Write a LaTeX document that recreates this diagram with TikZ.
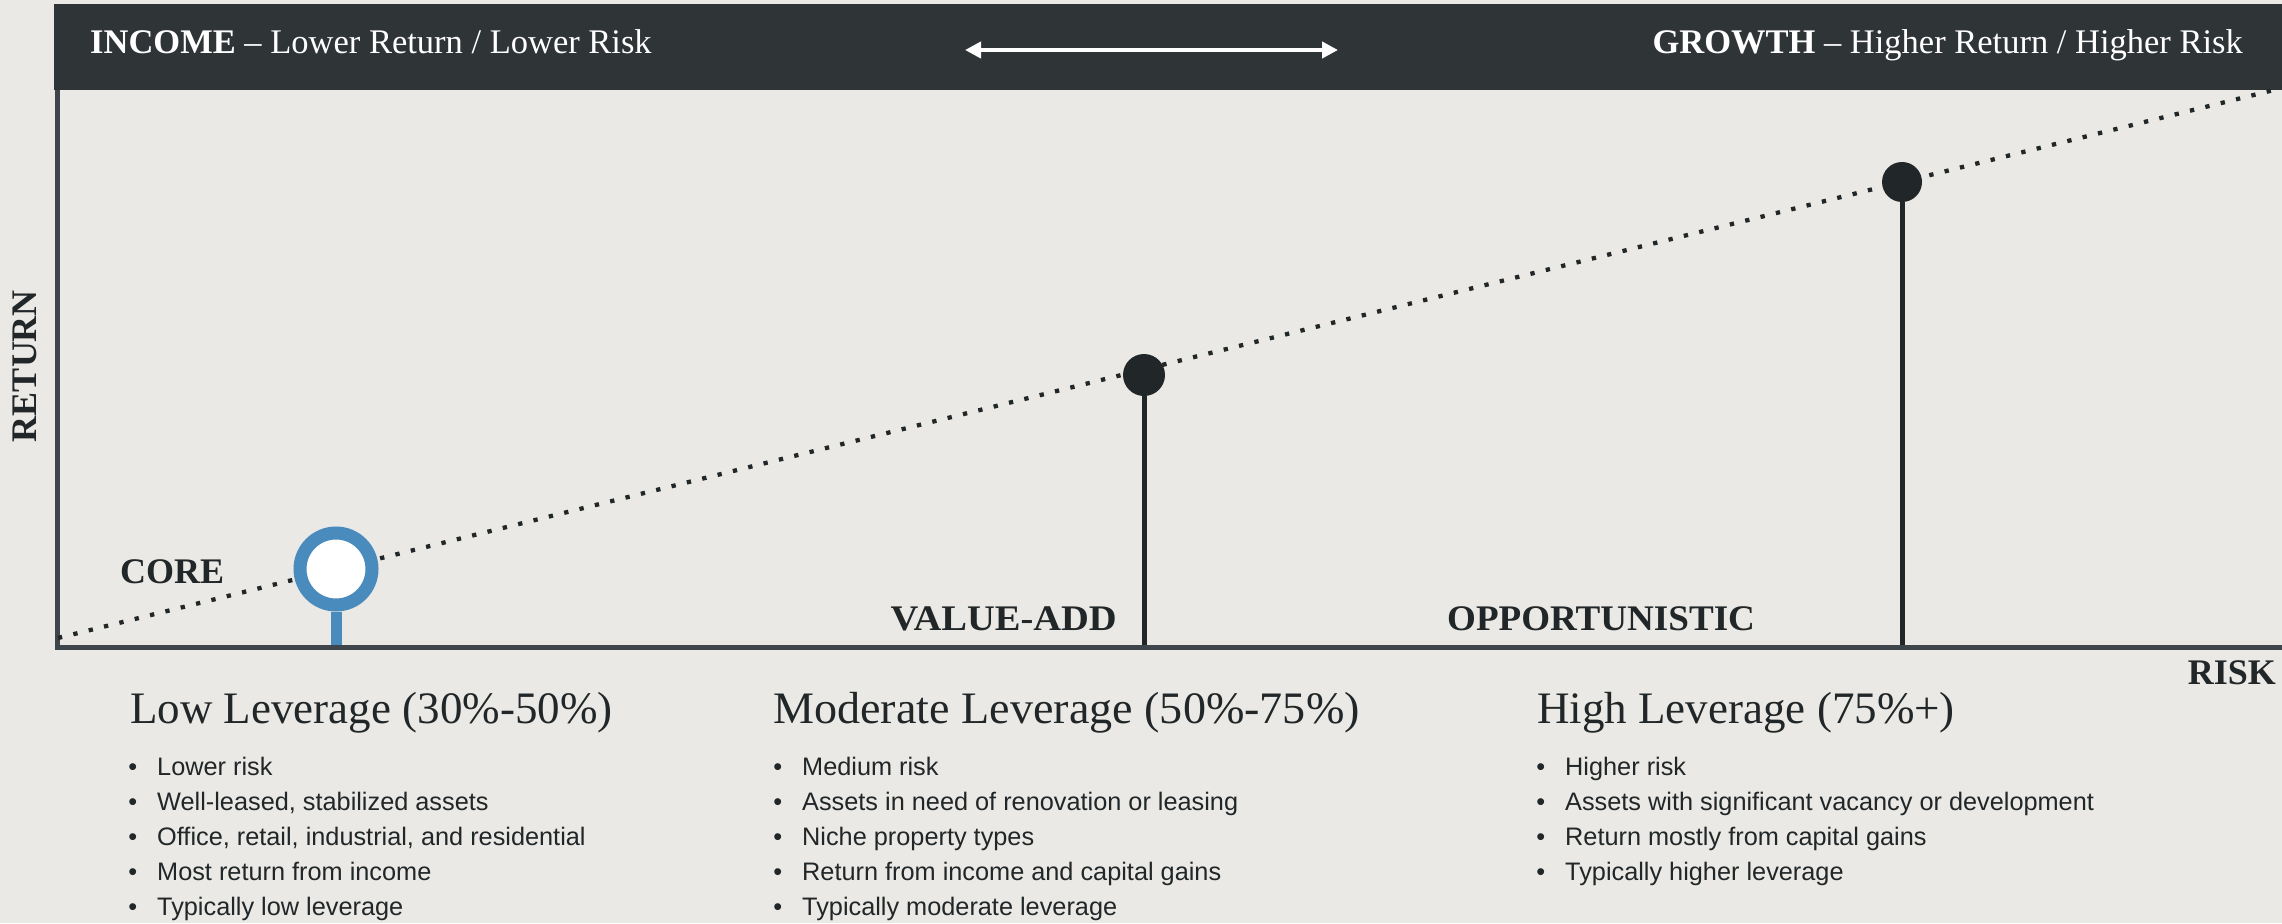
\documentclass[tikz,border=0pt]{standalone}
\usepackage{fontspec}
\setmainfont{Liberation Serif}
\newfontfamily\bodysans{Liberation Sans}
\usetikzlibrary{arrows.meta}
\definecolor{bg}{HTML}{EAE9E5}
\definecolor{hdr}{HTML}{2F3437}
\definecolor{axiscol}{HTML}{3E464C}
\definecolor{ink}{HTML}{212628}
\definecolor{coreblue}{HTML}{4A8BBE}
\begin{document}
\begin{tikzpicture}[x=1pt,y=-1pt,
  lbl/.style={font=\fontsize{36}{40}\selectfont\bfseries, text=ink, inner sep=0pt, anchor=base west},
  headtxt/.style={font=\fontsize{34.5}{40}\selectfont, text=white, inner sep=0pt},
  colhead/.style={font=\fontsize{45}{50}\selectfont, text=ink, inner sep=0pt, anchor=base west},
  bul/.style={font=\bodysans\fontsize{25.3}{30}\selectfont, text=ink, inner sep=0pt, anchor=base west},
  axisline/.style={draw=axiscol, line width=5pt},
  stem/.style={draw=ink, line width=5pt},
  blackdot/.style={circle, fill=ink, inner sep=0pt},
  trend/.style={draw=ink, line width=4.3pt, dash pattern=on 4.3pt off 11.5pt},
  dblarrow/.style={draw=white, line width=4pt, {Triangle[length=16pt,width=16pt]}-{Triangle[length=16pt,width=16pt]}}
]
\useasboundingbox (0,0) rectangle (2282,923);
\fill[bg] (0,0) rectangle (2282,923);

% header bar
\fill[hdr] (54,4) rectangle (2282,90);
\node[headtxt, anchor=base west] (income) at (90,54) {\textbf{INCOME} – Lower Return / Lower Risk};
\node[headtxt, anchor=base east] (growth) at (2243,54) {\textbf{GROWTH} – Higher Return / Higher Risk};
\coordinate (arl) at (965,50);
\coordinate (arr) at (1338,50);
\draw[dblarrow] (arl) -- (arr);

% axes
\coordinate (ytop) at (57,90);
\coordinate (origin) at (57,647);
\coordinate (xend) at (2282,647);
\draw[axisline] (ytop) -- (origin) -- (xend);

% trend line
\coordinate (tstart) at (58,638);
\coordinate (tend) at (2282,88);
\draw[trend] (tstart) -- (tend);

% points
\node[circle, draw=coreblue, line width=13pt, fill=white, minimum size=72pt, inner sep=0pt] (core) at (336,569) {};
\coordinate (corebase) at (336,645);
\draw[draw=coreblue, line width=11pt] (core.south) -- (corebase);

\node[blackdot, minimum size=42pt] (va) at (1144,375) {};
\coordinate (vabase) at (1144,645);
\draw[stem] (va) -- (vabase);

\node[blackdot, minimum size=40pt] (opp) at (1902,182) {};
\coordinate (oppbase) at (1902,645);
\draw[stem] (opp) -- (oppbase);

% labels
\node[lbl] (corelbl) at (120,583) {CORE};
\node[lbl, anchor=base east] (valbl) at (1117,630) {\scalebox{1.07}[1]{VALUE-ADD}};
\node[lbl] (opplbl) at (1447,630) {\scalebox{1.03}[1]{OPPORTUNISTIC}};
\node[lbl, anchor=base east] (risk) at (2276,684) {RISK};
\node[lbl, rotate=90, anchor=center] (ret) at (25,366) {RETURN};

% column headings
\node[colhead] (h1) at (130,723) {Low Leverage (30\%-50\%)};
\node[colhead] (h2) at (773,723) {\scalebox{1.025}[1]{Moderate Leverage (50\%-75\%)}};
\node[colhead] (h3) at (1537,723) {High Leverage (75\%+)};

% bullets
\foreach \t [count=\i] in {Lower risk, {Well-leased, stabilized assets}, {Office, retail, industrial, and residential}, Most return from income, Typically low leverage}
  \node[bul] (a\i) at (157,{775+35*(\i-1)}) {\makebox[0pt][r]{•\hspace{20pt}}\t};
\foreach \t [count=\i] in {Medium risk, Assets in need of renovation or leasing, Niche property types, Return from income and capital gains, Typically moderate leverage}
  \node[bul] (b\i) at (802,{775+35*(\i-1)}) {\makebox[0pt][r]{•\hspace{20pt}}\t};
\foreach \t [count=\i] in {Higher risk, Assets with significant vacancy or development, Return mostly from capital gains, Typically higher leverage}
  \node[bul] (c\i) at (1565,{775+35*(\i-1)}) {\makebox[0pt][r]{•\hspace{20pt}}\t};
\end{tikzpicture}
\end{document}
